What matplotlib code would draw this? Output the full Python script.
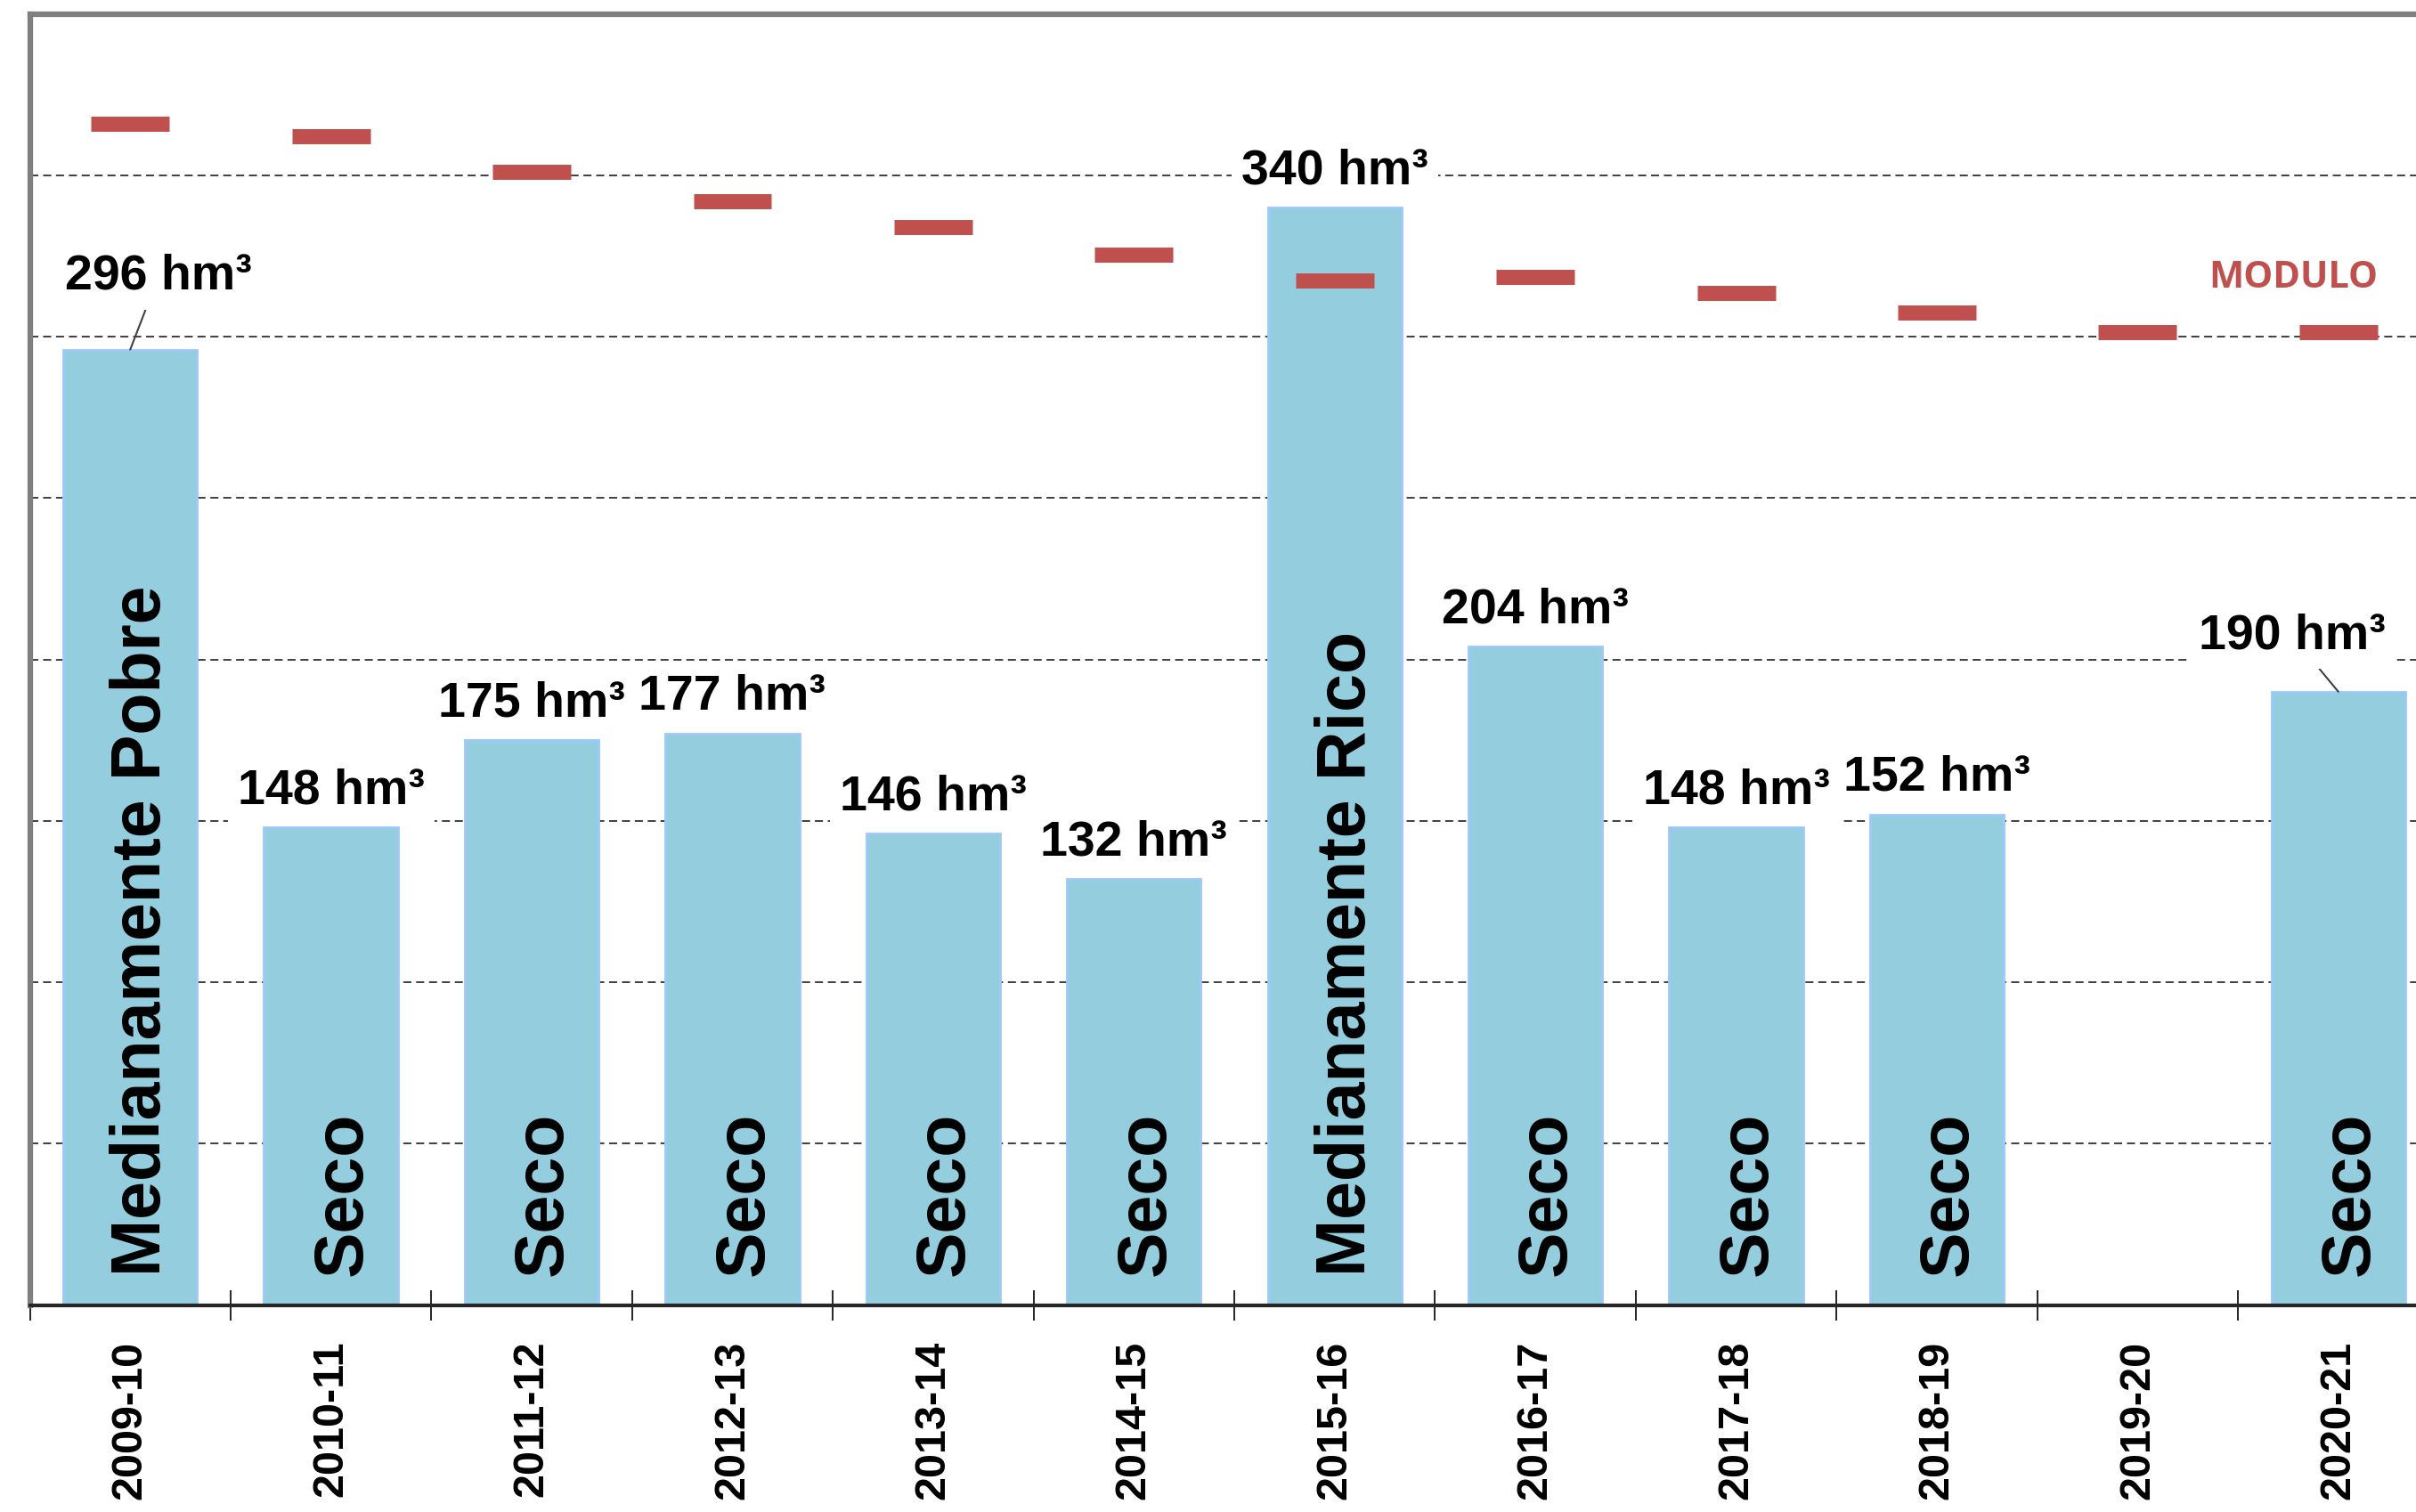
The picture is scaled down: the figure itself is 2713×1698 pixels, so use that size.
import numpy as np
import matplotlib.pyplot as plt

# annual inflow (hm3) per hydrological year, and the modulo reference
years = ['2009-10', '2010-11', '2011-12', '2012-13', '2013-14', '2014-15',
         '2015-16', '2016-17', '2017-18', '2018-19', '2019-20', '2020-21']
volume = [296, 148, 175, 177, 146, 132, 340, 204, 148, 152, np.nan, 190]
modulo = [366, 362, 351, 342, 334, 325.5, 317.5, 318.5, 313.5, 307.5, 301.5, 301.5]
clase = ['Medianamente Pobre', 'Seco', 'Seco', 'Seco', 'Seco', 'Seco',
         'Medianamente Rico', 'Seco', 'Seco', 'Seco', '', 'Seco']

# two labels are moved off their bar with a leader line: (dx, baseline)
label_pos = {0: (0.14, 314.7), 11: (-0.23, 203.4)}

RED = '#C0504D'
lab_font = ['Liberation Sans', 'DejaVu Sans']

fig = plt.figure(figsize=(27.13, 16.98), dpi=100)
ax = fig.add_axes([0.01235, 0.1369, 0.99705, 0.8539])
x = np.arange(len(years))

ax.bar(x, volume, width=0.667, color='#94CDDE', edgecolor='#9CC9FA',
       linewidth=2, zorder=2)
ax.hlines(modulo, x - 0.195, x + 0.195, colors=RED, linewidth=12.2,
          capstyle='butt', zorder=4)

box = dict(facecolor='white', edgecolor='none', pad=8)
for i, v in enumerate(volume):
    if np.isnan(v):
        continue
    txt = f'{v:.0f} hm³'
    if i in label_pos:
        dx, ty = label_pos[i]
        ax.annotate(txt, xy=(i, v), xytext=(i + dx, ty), ha='center',
                    va='baseline', fontsize=40, fontweight='bold',
                    family=lab_font, bbox=box, zorder=6,
                    arrowprops=dict(arrowstyle='-', color='#404040', lw=1.5,
                                    shrinkA=0, shrinkB=0))
    else:
        ax.text(i, v + 7.4, txt, ha='center', va='baseline', fontsize=40,
                fontweight='bold', family=lab_font, bbox=box, zorder=6)
    # class name written up the bar
    ax.text(i + 0.06, 9, clase[i], rotation=90, ha='center', va='bottom',
            fontsize=55.5, fontweight='bold', family=lab_font, zorder=5)

ax.text(10.775, 315.1, 'MODULO', color=RED, fontsize=30, fontweight='bold',
        family=['Open Sans', 'DejaVu Sans'], ha='center', va='baseline', zorder=6)

ax.set_xlim(-0.5, 11.5)
ax.set_ylim(0, 400)
ax.set_yticks(np.arange(50, 400, 50))
ax.yaxis.grid(True, linestyle=(0, (5, 3)), color='#303030', linewidth=1.3)
ax.set_axisbelow(True)
ax.tick_params(axis='y', length=0, labelleft=False)

ax.set_xticks(x)
ax.set_xticklabels(years, rotation=90, fontsize=35, fontweight='bold',
                   family=lab_font)
ax.set_xticks(np.arange(-0.5, 12, 1), minor=True)
ax.tick_params(axis='x', which='major', length=0, pad=29)
ax.tick_params(axis='x', which='minor', length=24.5, width=1.2,
               direction='inout', color='black')

for side in ['top', 'left', 'right']:
    ax.spines[side].set_color('#7F7F7F')
    ax.spines[side].set_linewidth(4.5)
ax.spines['bottom'].set_color('#262626')
ax.spines['bottom'].set_linewidth(3)

fig.savefig('out.png', dpi=100)
